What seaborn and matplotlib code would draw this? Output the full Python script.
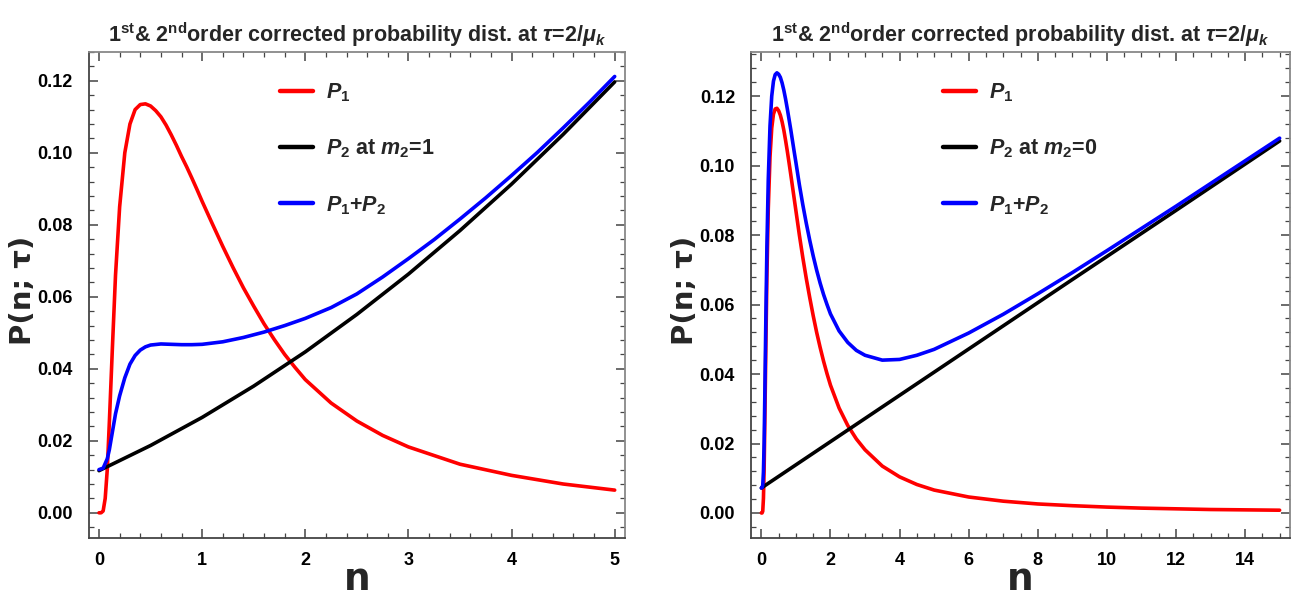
import numpy as np
import pandas as pd
import matplotlib
matplotlib.use("Agg")
import matplotlib.pyplot as plt
from matplotlib.ticker import MultipleLocator, FormatStrFormatter
import seaborn as sns

# ---------------- data ----------------
# Left panel (m2 = 1)
n_p1_left = [0, 0.02, 0.04, 0.06, 0.08, 0.10, 0.13, 0.16, 0.20, 0.25, 0.30, 0.35, 0.40,
             0.45, 0.50, 0.55, 0.60, 0.65, 0.70, 0.75, 0.80, 0.85, 0.90, 0.95, 1.00,
             1.10, 1.20, 1.30, 1.40, 1.50, 1.60, 1.70, 1.80, 1.90, 2.00, 2.25, 2.50,
             2.75, 3.00, 3.50, 4.00, 4.50, 5.00]
p1_left = [0.0000, 0.0000, 0.0005, 0.0040, 0.0120, 0.0250, 0.0460, 0.0660, 0.0850, 0.1000,
           0.1080, 0.1120, 0.1134, 0.1136, 0.1130, 0.1117, 0.1100, 0.1077, 0.1050, 0.1021,
           0.0990, 0.0961, 0.0930, 0.0898, 0.0865, 0.0802, 0.0740, 0.0681, 0.0625, 0.0574,
           0.0525, 0.0481, 0.0440, 0.0404, 0.0370, 0.0305, 0.0255, 0.0215, 0.0183, 0.0135,
           0.0104, 0.0080, 0.0063]

n_p2_left = [0, 0.5, 1.0, 1.5, 2.0, 2.5, 3.0, 3.5, 4.0, 4.5, 5.0]
p2_left = [0.0117, 0.0187, 0.0265, 0.0352, 0.0447, 0.0551, 0.0663, 0.0784, 0.0913, 0.1051, 0.1197]

n_sum_left = [0, 0.04, 0.08, 0.10, 0.13, 0.16, 0.20, 0.25, 0.30, 0.35, 0.40, 0.45, 0.50,
              0.60, 0.70, 0.80, 0.90, 1.00, 1.20, 1.40, 1.60, 1.80, 2.00, 2.25, 2.50,
              2.75, 3.00, 3.25, 3.50, 3.75, 4.00, 4.25, 4.50, 4.75, 5.00]
sum_left = [0.0120, 0.0124, 0.0150, 0.0175, 0.0225, 0.0275, 0.0325, 0.0375, 0.0413, 0.0437,
            0.0452, 0.0461, 0.0466, 0.0469, 0.0468, 0.0467, 0.0467, 0.0468, 0.0475, 0.0487,
            0.0502, 0.0520, 0.0540, 0.0570, 0.0608, 0.0655, 0.0706, 0.0759, 0.0816, 0.0875,
            0.0937, 0.1001, 0.1069, 0.1139, 0.1212]

# Right panel (m2 = 0)
n_p1_right = [0, 0.02, 0.04, 0.06, 0.08, 0.10, 0.13, 0.16, 0.20, 0.25, 0.30, 0.35, 0.40,
              0.45, 0.50, 0.55, 0.60, 0.65, 0.70, 0.75, 0.80, 0.85, 0.90, 0.95, 1.00,
              1.10, 1.20, 1.30, 1.40, 1.50, 1.60, 1.70, 1.80, 1.90, 2.00, 2.25, 2.50,
              2.75, 3.00, 3.50, 4.00, 4.50, 5, 6, 7, 8, 9, 10, 11, 12, 13, 14, 15]
p1_right = [0.0000, 0.0000, 0.0005, 0.0042, 0.0125, 0.0260, 0.0480, 0.0680, 0.0875, 0.1025,
            0.1108, 0.1148, 0.1163, 0.1165, 0.1158, 0.1145, 0.1126, 0.1102, 0.1073, 0.1042,
            0.1009, 0.0975, 0.0940, 0.0905, 0.0870, 0.0800, 0.0735, 0.0675, 0.0620, 0.0568,
            0.0520, 0.0477, 0.0437, 0.0401, 0.0368, 0.0302, 0.0252, 0.0213, 0.0182, 0.0135,
            0.0104, 0.0082, 0.0066, 0.0046, 0.0034, 0.0026, 0.0021, 0.0017, 0.0014, 0.0012,
            0.0010, 0.0009, 0.0008]

n_p2_right = [0, 3, 6, 9, 12, 15]
p2_right = [0.0072, 0.0272, 0.0472, 0.0672, 0.0871, 0.1071]

n_sum_right = [0, 0.02, 0.04, 0.06, 0.08, 0.10, 0.13, 0.16, 0.20, 0.25, 0.30, 0.35, 0.40,
               0.45, 0.50, 0.55, 0.60, 0.65, 0.70, 0.75, 0.80, 0.85, 0.90, 0.95, 1.00,
               1.10, 1.20, 1.30, 1.40, 1.50, 1.60, 1.70, 1.80, 1.90, 2.00, 2.25, 2.50,
               2.75, 3.00, 3.50, 4.00, 4.50, 5, 6, 7, 8, 9, 10, 12, 15]
sum_right = [0.0072, 0.0073, 0.0080, 0.0118, 0.0202, 0.0339, 0.0561, 0.0763, 0.0960, 0.1114,
             0.1200, 0.1243, 0.1262, 0.1267, 0.1263, 0.1254, 0.1238, 0.1217, 0.1192, 0.1164,
             0.1134, 0.1104, 0.1072, 0.1040, 0.1009, 0.0945, 0.0887, 0.0834, 0.0785, 0.0740,
             0.0699, 0.0662, 0.0629, 0.0600, 0.0573, 0.0524, 0.0491, 0.0468, 0.0454, 0.0440,
             0.0442, 0.0454, 0.0471, 0.0518, 0.0572, 0.0631, 0.0692, 0.0755, 0.0883, 0.1079]

titles = [r'$1^{\mathrm{st}}$& $2^{\mathrm{nd}}$order corrected probability dist. at $\tau$=2/$\mu_k$'] * 2
legend_labels_left = [r'$P_1$', r'$P_2$ at $m_2$=1', r'$P_1$+$P_2$']
legend_labels_right = [r'$P_1$', r'$P_2$ at $m_2$=0', r'$P_1$+$P_2$']

# ---------------- style ----------------
sns.set_theme(style="ticks")
plt.rcParams['font.family'] = ['Liberation Sans', 'DejaVu Sans']
plt.rcParams['mathtext.fontset'] = 'custom'
plt.rcParams['mathtext.rm'] = 'Liberation Sans:bold'
plt.rcParams['mathtext.it'] = 'Liberation Sans:bold:italic'
plt.rcParams['mathtext.bf'] = 'Liberation Sans:bold'

fig = plt.figure(figsize=(12.93, 5.99), dpi=100)
W, H = 1293, 599
ax1 = fig.add_axes([88.7 / W, 61 / H, 536.3 / W, 486 / H])
ax2 = fig.add_axes([751 / W, 61 / H, 539 / W, 486 / H])

LW = 2.6


def style_axes(ax, xlim, ylim, xmaj, xmin):
    ax.set_xlim(*xlim)
    ax.set_ylim(*ylim)
    ax.xaxis.set_major_locator(MultipleLocator(xmaj))
    ax.xaxis.set_minor_locator(MultipleLocator(xmin))
    ax.yaxis.set_major_locator(MultipleLocator(0.02))
    ax.yaxis.set_minor_locator(MultipleLocator(0.004))
    ax.yaxis.set_major_formatter(FormatStrFormatter('%.2f'))
    ax.tick_params(which='both', direction='in', top=True, right=True,
                   colors='#444444', labelcolor='black')
    ax.tick_params(which='major', length=6.5, width=1.1, labelsize=13)
    ax.tick_params(axis='y', which='major', pad=11.5)
    ax.tick_params(axis='x', which='major', pad=10)
    ax.tick_params(which='minor', length=3.5, width=0.9)
    for lab in ax.get_xticklabels() + ax.get_yticklabels():
        lab.set_fontweight('bold')
    for side in ['left', 'bottom']:
        ax.spines[side].set_color('#444444')
        ax.spines[side].set_linewidth(1.3)
    for side in ['top', 'right']:
        ax.spines[side].set_color('#888888')
        ax.spines[side].set_linewidth(1.3)
    ax.set_xlabel('n', fontsize=27, fontweight='bold', family=['DejaVu Sans'])
    ax.xaxis.label.set_verticalalignment('baseline')
    ax.xaxis.set_label_coords(0.5, -0.107)
    ax.set_ylabel('P(n; τ)', fontsize=21, fontweight='bold', family=['DejaVu Sans'])
    ax.yaxis.label.set_verticalalignment('baseline')
    x_off = (31 - 88.7) / ax.get_position().width / W
    ax.yaxis.set_label_coords(x_off, 0.51)


# Left panel
sns.lineplot(x=n_p1_left, y=p1_left, color='#ff0000', lw=LW, ax=ax1,
             label=legend_labels_left[0], estimator=None, sort=False)
sns.lineplot(x=n_p2_left, y=p2_left, color='black', lw=LW, ax=ax1,
             label=legend_labels_left[1], estimator=None, sort=False)
sns.lineplot(x=n_sum_left, y=sum_left, color='#0000ff', lw=LW, ax=ax1,
             label=legend_labels_left[2], estimator=None, sort=False)
style_axes(ax1, (-0.1, 5.1), (-0.007, 0.128), 1, 0.2)

# Right panel
sns.lineplot(x=n_p1_right, y=p1_right, color='#ff0000', lw=LW, ax=ax2,
             label=legend_labels_right[0], estimator=None, sort=False)
sns.lineplot(x=n_p2_right, y=p2_right, color='black', lw=LW, ax=ax2,
             label=legend_labels_right[1], estimator=None, sort=False)
sns.lineplot(x=n_sum_right, y=sum_right, color='#0000ff', lw=LW, ax=ax2,
             label=legend_labels_right[2], estimator=None, sort=False)
style_axes(ax2, (-0.3, 15.3), (-0.0072, 0.1327), 2, 0.5)

for ax, t in zip([ax1, ax2], titles):
    ax.set_title(t, fontsize=15.5, pad=7, fontweight='bold')
    leg = ax.legend(loc='upper left', bbox_to_anchor=(0.356, 0.939), frameon=False,
                    prop={'size': 15.5, 'weight': 'bold'}, handlelength=1.55,
                    handletextpad=0.6, labelspacing=1.56,
                    borderpad=0, borderaxespad=0)
    for line in leg.get_lines():
        line.set_linewidth(3.2)

fig.savefig('out.png', dpi=100)
